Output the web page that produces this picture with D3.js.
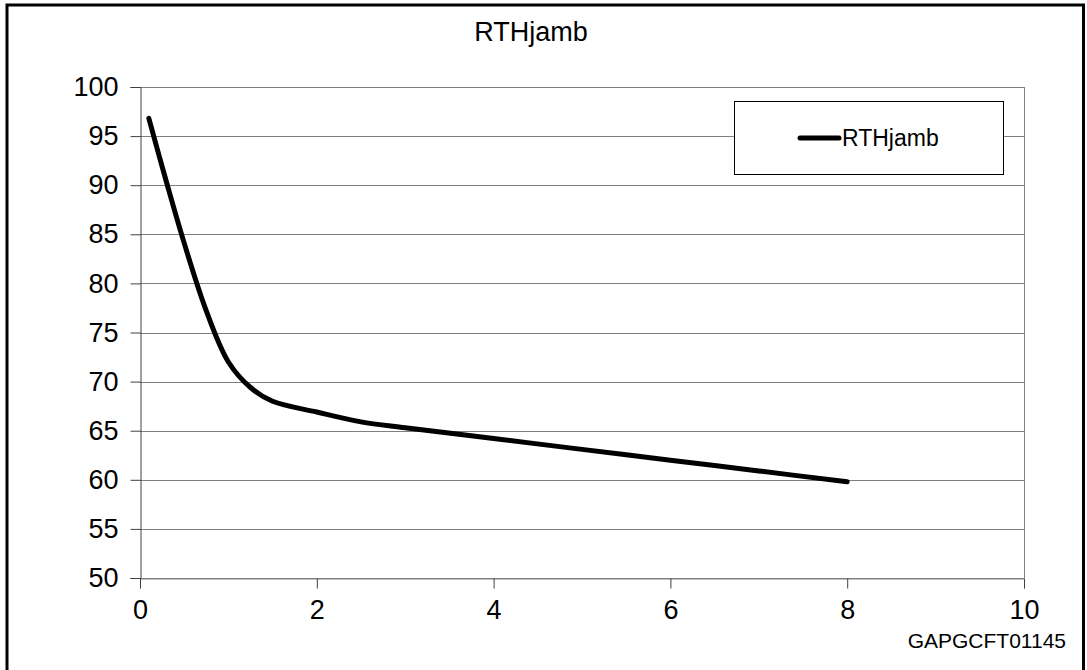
<!DOCTYPE html>
<html>
<head>
<meta charset="utf-8">
<script src="https://cdn.jsdelivr.net/npm/d3@7"></script>
<style>
  body { margin: 0; background: #fff; }
  svg { display: block; font-family: "Liberation Sans", Arial, sans-serif; }
</style>
</head>
<body>
<div id="chart"></div>
<script>
// data
var chartTitle = "RTHjamb";
var seriesName = "RTHjamb";
var footNote = "GAPGCFT01145";
var xValues = [0.1, 0.3, 0.5, 0.75, 1.0, 1.25, 1.5, 2.0, 2.5, 3.0, 4.0, 5.0, 6.0, 7.0, 8.0];
var yValues = [96.8, 90.3, 84.1, 77.2, 72.0, 69.4, 68.0, 66.9, 65.9, 65.3, 64.2, 63.1, 62.0, 60.9, 59.8];
var xTicks = [0, 2, 4, 6, 8, 10];
var yTicks = [50, 55, 60, 65, 70, 75, 80, 85, 90, 95, 100];

var W = 1087, H = 670;
var margin = {top: 87, right: 63, bottom: 92, left: 140},
    width = W - margin.left - margin.right,
    height = H - margin.top - margin.bottom;

var svg = d3.select("#chart").append("svg")
    .attr("width", W)
    .attr("height", H);

// outer frame (bottom edge runs off the page)
svg.append("rect")
  .attr("x", 7).attr("y", 5)
  .attr("width", 1076.5).attr("height", 700)
  .attr("fill", "none")
  .attr("stroke", "#000")
  .attr("stroke-width", 3);

svg.append("text")
  .attr("x", 531).attr("y", 41)
  .attr("text-anchor", "middle")
  .style("font-size", "27px")
  .text(chartTitle);

var g = svg.append("g")
  .attr("transform", "translate(" + margin.left + "," + margin.top + ")");

var xScale = d3.scaleLinear().domain([0, 10]).range([0, width]);
var yScale = d3.scaleLinear().domain([50, 100]).range([height, 0]);

// gridlines
g.selectAll(".grid")
  .data(yTicks)
  .enter().append("line")
    .attr("x1", 0).attr("x2", width)
    .attr("y1", function(d) { return Math.round(yScale(d)) + 0.5; })
    .attr("y2", function(d) { return Math.round(yScale(d)) + 0.5; })
    .attr("stroke", "#808080")
    .attr("stroke-width", 1);

// plot area right edge
g.append("line")
  .attr("x1", width + 0.5).attr("x2", width + 0.5)
  .attr("y1", 0).attr("y2", height)
  .attr("stroke", "#808080");

// axes
var xAxis = g.append("g")
  .attr("transform", "translate(0," + (Math.round(height) + 0.5) + ")")
  .call(d3.axisBottom(xScale).tickValues(xTicks).tickSize(10).tickPadding(11).tickFormat(d3.format("d")));
var yAxis = g.append("g")
  .attr("transform", "translate(0.5,0)")
  .call(d3.axisLeft(yScale).tickValues(yTicks).tickSize(10).tickPadding(12).tickFormat(d3.format("d")));

[xAxis, yAxis].forEach(function(ax) {
  ax.select(".domain").attr("stroke", "#404040").attr("stroke-width", 1);
  ax.selectAll(".tick line").attr("stroke", "#404040");
  ax.selectAll("text")
    .attr("fill", "#000")
    .style("font-size", "27px")
    .style("font-family", "'Liberation Sans', Arial, sans-serif");
});
xAxis.select(".domain").attr("stroke", "#808080");

// the series
var points = xValues.map(function(x, i) { return {x: x, y: yValues[i]}; });
var line_generator = d3.line()
  .x(function(d) { return xScale(d.x); })
  .y(function(d) { return yScale(d.y); })
  .curve(d3.curveCatmullRom.alpha(0.5));

g.append("path")
  .datum(points)
  .attr("fill", "none")
  .attr("stroke", "#000")
  .attr("stroke-width", 5)
  .attr("stroke-linecap", "round")
  .attr("d", line_generator);

// legend
var legend = svg.append("g");
legend.append("rect")
  .attr("x", 734.5).attr("y", 101.5)
  .attr("width", 269).attr("height", 73)
  .attr("fill", "#fff")
  .attr("stroke", "#000");
legend.append("line")
  .attr("x1", 800).attr("x2", 839)
  .attr("y1", 138).attr("y2", 138)
  .attr("stroke", "#000")
  .attr("stroke-width", 5)
  .attr("stroke-linecap", "round");
legend.append("text")
  .attr("x", 842).attr("y", 146)
  .style("font-size", "23px")
  .text(seriesName);

svg.append("text")
  .attr("x", 1066).attr("y", 648)
  .attr("text-anchor", "end")
  .style("font-size", "21px")
  .text(footNote);
</script>
</body>
</html>
